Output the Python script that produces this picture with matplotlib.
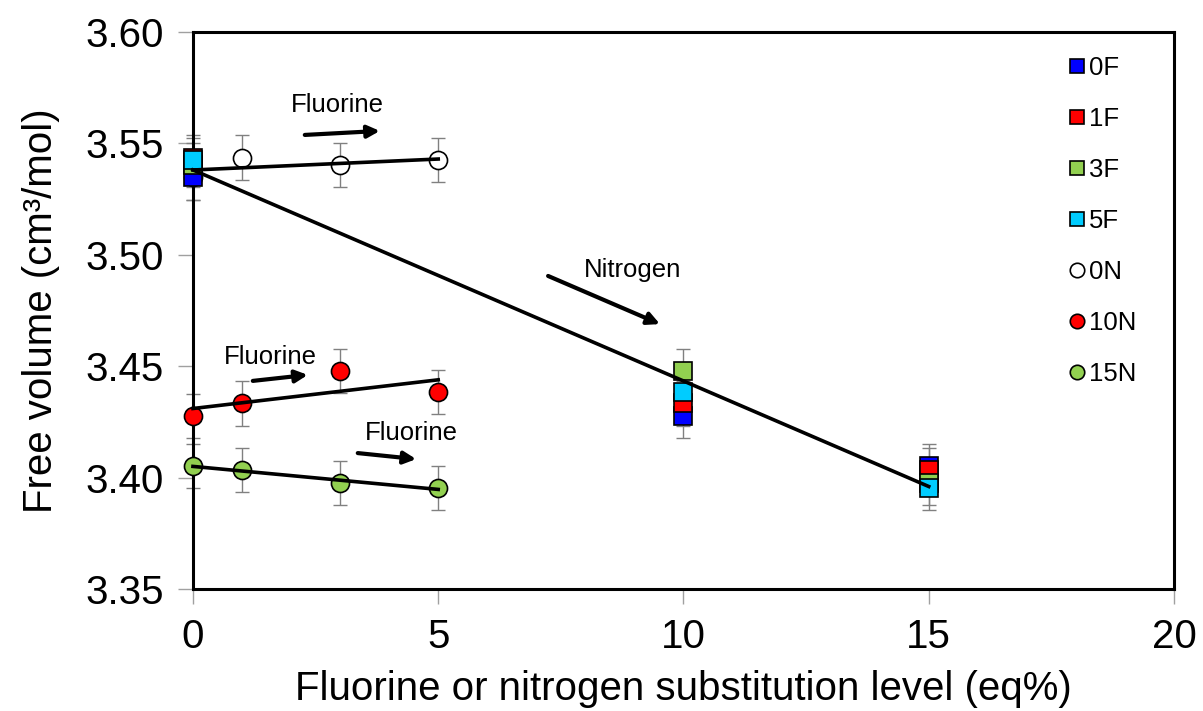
import numpy as np
import matplotlib
matplotlib.use("Agg")
import matplotlib.pyplot as plt

# free volume (cm3/mol), F series at nitrogen levels 0, 10, 15 eq%
nitrogen_levels = [0, 10, 15]
fluorine_levels = [0, 1, 3, 5]
vol_0F = [3.5347, 3.4276, 3.4052]
vol_1F = [3.5436, 3.4333, 3.4034]
vol_3F = [3.5403, 3.4478, 3.3975]
vol_5F = [3.5425, 3.4385, 3.3954]
err = 0.01

f_labels = ["0F", "1F", "3F", "5F"]
n_labels = ["0N", "10N", "15N"]
f_colors = ["#0000ff", "#ff0000", "#92d050", "#00ccff"]
n_colors = ["white", "#ff0000", "#92d050"]

f_series = [vol_0F, vol_1F, vol_3F, vol_5F]
# N series: same measurements regrouped by nitrogen level
n_series = [[s[i] for s in f_series] for i in range(len(nitrogen_levels))]

plt.rcParams["font.family"] = "Liberation Sans"

fig = plt.figure(figsize=(12.03, 7.11), dpi=100)
ax = fig.add_axes([0.1604, 0.1716, 0.8155, 0.7834])

handles = []
for vals, lab, col in zip(n_series, n_labels, n_colors):
    eb = ax.errorbar(fluorine_levels, vals, yerr=err, fmt="none", ecolor="#808080",
                     elinewidth=1, capsize=5, capthick=1, zorder=2)
    for a in eb.lines[1] + eb.lines[2]:
        a.set_clip_on(False)
    h, = ax.plot(fluorine_levels, vals, "o", ms=13, mfc=col, mec="black", mew=1.2,
                 label=lab, zorder=3, clip_on=False)
    handles.append(h)
    p = np.polyfit(fluorine_levels, vals, 1)
    xx = np.array([fluorine_levels[0], fluorine_levels[-1]])
    ax.plot(xx, np.polyval(p, xx), color="black", lw=2.6, zorder=5, clip_on=False)

f_handles = []
for vals, lab, col in zip(f_series, f_labels, f_colors):
    eb = ax.errorbar(nitrogen_levels, vals, yerr=err, fmt="none", ecolor="#808080",
                     elinewidth=1, capsize=5, capthick=1, zorder=2)
    for a in eb.lines[1] + eb.lines[2]:
        a.set_clip_on(False)
    h, = ax.plot(nitrogen_levels, vals, "s", ms=13, mfc=col, mec="black", mew=1.2,
                 label=lab, zorder=4, clip_on=False)
    f_handles.append(h)

# nitrogen trend line, fit to all points
allx = np.repeat(nitrogen_levels, len(f_series))
ally = np.array(n_series).ravel()
p = np.polyfit(allx, ally, 1)
xx = np.array([0, 15])
ax.plot(xx, np.polyval(p, xx), color="black", lw=2.6, zorder=5, clip_on=False)

arrow = dict(arrowstyle="-|>", color="black", lw=3, mutation_scale=18, shrinkA=0, shrinkB=0)
ax.annotate("", xy=(3.81, 3.5556), xytext=(2.28, 3.5538), arrowprops=arrow)
ax.text(2.94, 3.5672, "Fluorine", fontsize=18.5, ha="center", va="center")
ax.annotate("", xy=(2.34, 3.4461), xytext=(1.22, 3.4434), arrowprops=arrow)
ax.text(1.57, 3.4541, "Fluorine", fontsize=18.5, ha="center", va="center")
ax.annotate("", xy=(4.55, 3.4083), xytext=(3.36, 3.4110), arrowprops=arrow)
ax.text(4.46, 3.4200, "Fluorine", fontsize=18.5, ha="center", va="center")
ax.annotate("", xy=(9.52, 3.4689), xytext=(7.24, 3.4905), arrowprops=arrow)
ax.text(8.97, 3.4932, "Nitrogen", fontsize=18.5, ha="center", va="center")

ax.set_xlim(0, 20)
ax.set_ylim(3.35, 3.60)
ax.set_xticks([0, 5, 10, 15, 20])
ax.set_yticks(np.arange(3.35, 3.601, 0.05))
ax.yaxis.set_major_formatter(matplotlib.ticker.FormatStrFormatter("%.2f"))
ax.tick_params(axis="both", direction="out", length=11, width=1, color="#a0a0a0",
               labelsize=29, pad=10)
for s in ax.spines.values():
    s.set_linewidth(2.2)
    s.set_color("black")

ax.set_xlabel("Fluorine or nitrogen substitution level (eq%)", fontsize=29, labelpad=10)
ax.set_ylabel("Free volume (cm³/mol)", fontsize=29, labelpad=18)

leg = ax.legend(f_handles + handles, f_labels + n_labels, loc="upper right",
                bbox_to_anchor=(0.985, 0.998), frameon=False, fontsize=18.5,
                handlelength=0.6, handletextpad=0.15, labelspacing=1.05,
                markerscale=0.8)

fig.savefig("out.png", dpi=100)
